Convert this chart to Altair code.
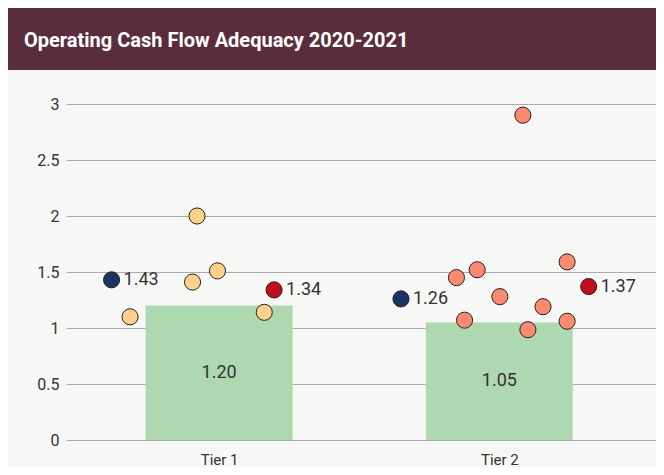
import altair as alt
import pandas as pd

# ---- data ----
tiers = ["Tier 1", "Tier 2"]
tier_pos = [1, 2]
bar_values = [1.20, 1.05]

avg_high = [1.43, 1.26]          # navy dots
avg_high_jitter = [-0.384, -0.351]
avg_low = [1.34, 1.37]           # red dots
avg_low_jitter = [0.196, 0.319]

tier1_members = [1.10, 2.00, 1.41, 1.51, 1.14]
tier1_jitter = [-0.318, -0.079, -0.095, -0.006, 0.161]
tier2_members = [2.90, 1.45, 1.52, 1.28, 1.07, 0.985, 1.19, 1.59, 1.06]
tier2_jitter = [0.084, -0.153, -0.079, 0.002, -0.124, 0.102, 0.156, 0.242, 0.242]

title_text = "Operating Cash Flow Adequacy 2020-2021"
y_ticks = [0, 0.5, 1, 1.5, 2, 2.5, 3]

FONT = "Roboto"
TXT = "#333333"

bars_df = pd.DataFrame({"tier": tiers, "pos": tier_pos, "value": bar_values})
high_df = pd.DataFrame({"tier": tiers, "x": [p + j for p, j in zip(tier_pos, avg_high_jitter)], "value": avg_high})
low_df = pd.DataFrame({"tier": tiers, "x": [p + j for p, j in zip(tier_pos, avg_low_jitter)], "value": avg_low})
t1 = pd.DataFrame({"x": [1 + j for j in tier1_jitter], "value": tier1_members})
t2 = pd.DataFrame({"x": [2 + j for j in tier2_jitter], "value": tier2_members})
title_df = pd.DataFrame({"t": [title_text]})

xscale = alt.Scale(domain=[0.4712, 2.5414], nice=False, zero=False)
yscale = alt.Scale(domain=[0, 3], nice=False)

xaxis = alt.Axis(values=tier_pos, labelExpr="datum.value == 1 ? 'Tier 1' : 'Tier 2'",
                 title=None, grid=False, domain=False, ticks=False,
                 labelFont=FONT, labelFontSize=15, labelColor=TXT, labelPadding=12)
yaxis = alt.Axis(values=y_ticks, title=None, domain=False, ticks=False,
                 grid=True, gridColor="#ababab", gridWidth=1.2,
                 labelFont=FONT, labelFontSize=16, labelColor=TXT, labelPadding=7,
                 labelExpr="format(datum.value, '')")

bars = alt.Chart(bars_df).mark_bar(size=147, color="#aed8b0").encode(
    x=alt.X("pos:Q", scale=xscale, axis=xaxis),
    y=alt.Y("value:Q", scale=yscale, axis=yaxis),
)
bar_text = alt.Chart(bars_df).transform_calculate(mid="datum.value / 2").mark_text(
    font=FONT, fontSize=18, color=TXT, baseline="middle"
).encode(
    x=alt.X("pos:Q", scale=xscale),
    y=alt.Y("mid:Q", scale=yscale),
    text=alt.Text("value:Q", format=".2f"),
)

def dots(df, fill):
    return alt.Chart(df).mark_point(
        filled=True, shape="circle", size=260, fill=fill, stroke="#222222",
        strokeWidth=1, opacity=1
    ).encode(x=alt.X("x:Q", scale=xscale), y=alt.Y("value:Q", scale=yscale))

def dot_labels(df):
    return alt.Chart(df).mark_text(
        align="left", baseline="middle", dx=12, font=FONT, fontSize=18, color=TXT
    ).encode(x=alt.X("x:Q", scale=xscale), y=alt.Y("value:Q", scale=yscale),
             text=alt.Text("value:Q", format=".2f"))

header = alt.Chart(title_df).mark_rect(color="#5a2d3e").encode(
    x=alt.value(-58), x2=alt.value(590), y=alt.value(-96), y2=alt.value(-34)
)
header_text = alt.Chart(title_df).mark_text(
    align="left", baseline="alphabetic", font=FONT, fontSize=20, fontWeight="bold",
    color="white"
).encode(x=alt.value(-42), y=alt.value(-57), text="t:N")

chart = alt.layer(
    header, header_text, bars, bar_text,
    dots(t1, "#fed08a"), dots(t2, "#fc8a72"),
    dots(high_df, "#1b3463"), dots(low_df, "#c00f1a"),
    dot_labels(high_df), dot_labels(low_df),
).properties(
    width=590, height=336,
    autosize=alt.AutoSizeParams(type="none"),
    padding={"left": 58, "top": 96, "right": 0, "bottom": 27},
    background="#f7f7f5",
).configure_view(stroke=None)

chart.save("out.html", embed_options={"renderer": "svg", "actions": False})
